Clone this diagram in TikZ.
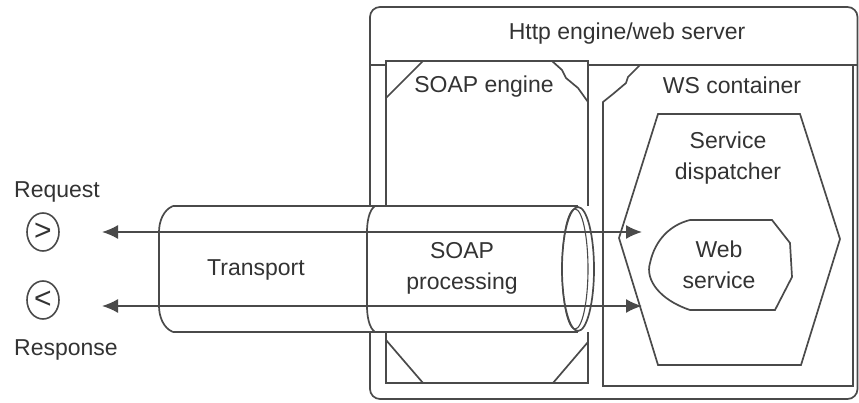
\documentclass[tikz,border=0pt]{standalone}
\usepackage{fontspec}
\setmainfont{Liberation Sans}
\usetikzlibrary{shapes.geometric,arrows.meta}
\definecolor{ln}{HTML}{4A4A4A}
\definecolor{tx}{HTML}{333333}
\tikzset{
  box/.style={draw=ln, line width=1.7pt},
  lbl/.style={text=tx, inner sep=0pt, align=center, font=\fontsize{23}{31}\selectfont},
  flow/.style={draw=ln, line width=1.7pt, arrows={Latex[length=16pt,width=14pt,fill=ln]-Latex[length=16pt,width=14pt,fill=ln]}},
  sym/.style={draw=ln, line width=1.6pt, ellipse, minimum width=32pt, minimum height=38pt, inner sep=0pt, text=tx, font=\fontsize{30}{30}\selectfont}
}
\begin{document}
\begin{tikzpicture}[x=1pt,y=-1pt]
\useasboundingbox[fill=white] (0,0) rectangle (859,403);
% outer http engine box
\draw[box, rounded corners=10pt] (370,7) rectangle (857.5,399);
\draw[box] (370,65) -- (857.5,65);
\node[lbl] (http) at (627,34) {Http engine/web server};
% SOAP engine box
\draw[box, fill=white] (386,61) rectangle (588,383);
\draw[box] (386,98) -- (423,61);
\draw[box] (552,61) -- (562,70) -- (566,78) -- (578,88) -- (588,102);
\draw[box] (386,340) -- (423,383);
\draw[box] (553,383) -- (588,342);
\node[lbl] (soapeng) at (484,87) {SOAP engine};
% WS container
\draw[box, fill=white] (603,102) -- (613,94) -- (626,83) -- (628,77) -- (640,65) -- (853,65) -- (853,386) -- (603,386) -- cycle;
\node[lbl] (wsc) at (732,85) {WS container};
% Service dispatcher hexagon
\draw[box] (658,114) -- (800,114) -- (840,239) -- (801,365) -- (658,365) -- (619,238) -- cycle;
\node[lbl] (disp) at (728,158) {Service\\dispatcher};
% Web service
\draw[box] (690,220) -- (772,220) -- (790,243) -- (792,277) -- (775,310) -- (690,310)
  .. controls (660,300) and (645,280) .. (650,263)
  .. controls (655,240) and (670,225) .. (690,220);
\node[lbl] (ws) at (719,265) {Web\\service};
% cylinder
\fill[white] (160,206) rectangle (590,332);
\draw[box] (173,206) -- (578,206);
\draw[box] (173,332) -- (578,332);
\draw[box] (173,206) .. controls (163,210) and (159,222) .. (159,232) -- (159,306) .. controls (159,316) and (163,328) .. (173,332);
\draw[box] (375,206) .. controls (369,210) and (367,222) .. (367,232) -- (367,306) .. controls (367,316) and (369,328) .. (375,332);
\draw[box, fill=white] (578,269) ellipse [x radius=16, y radius=62];
\draw[draw=ln, line width=1.1pt] (575,269) ellipse [x radius=13, y radius=60];
\node[lbl] (transport) at (256,270) {Transport};
\node[lbl] (soapproc) at (462,268) {SOAP\\processing};
% request / response
\node[lbl] (reqlbl) at (57,192) {Request};
\node[lbl] (resplbl) at (66,350) {Response};
\node[sym] (req) at (43,232) {>};
\node[sym] (resp) at (43,300) {<};
\coordinate (reqL) at (102,232);
\coordinate (reqR) at (642,232);
\coordinate (respL) at (102,306);
\coordinate (respR) at (642,306);
\draw[flow] (reqL) -- (reqR);
\draw[flow] (respL) -- (respR);
\end{tikzpicture}
\end{document}
